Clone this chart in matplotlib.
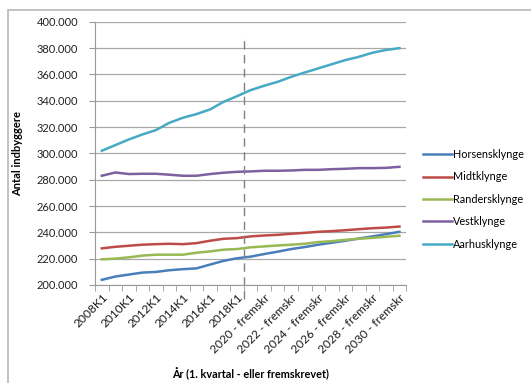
import matplotlib.pyplot as plt
from matplotlib.patches import Rectangle
from matplotlib.ticker import FuncFormatter, FixedLocator

plt.rcParams['font.family'] = ['Lato', 'DejaVu Sans']

# Kategorier: 1. kvartal 2008-2019, derefter fremskrivning 2020-2030
perioder = ['%dK1' % a for a in range(2008, 2020)] + \
           ['%d - fremskr' % a for a in range(2020, 2031)]

horsens = [203900, 206400, 207900, 209400, 209900, 211200, 212000, 212600,
           215500, 218300, 220300, 221500, 223500, 225300, 227300, 228800,
           230600, 232100, 233600, 235300, 236900, 238600, 240400]
midt = [227800, 229000, 229800, 230600, 231000, 231300, 231000, 231800,
        233600, 235100, 235600, 236900, 237600, 238100, 238900, 239600,
        240400, 240900, 241600, 242400, 243100, 243600, 244400]
randers = [219500, 220000, 221000, 222300, 223000, 223000, 223000, 224500,
           225500, 226800, 227300, 228600, 229300, 230000, 230600, 231300,
           232600, 233300, 234300, 235100, 235800, 236600, 237400]
vest = [283000, 285500, 284300, 284500, 284500, 283800, 283000, 283000,
        284300, 285300, 286000, 286300, 286800, 286800, 287000, 287500,
        287500, 288000, 288300, 288800, 288800, 289000, 289800]
aarhus = [302000, 306300, 310600, 314400, 317700, 323300, 327100, 329900,
          333400, 339200, 343500, 348100, 351400, 354400, 358200, 361500,
          364600, 367800, 370900, 373400, 376500, 378600, 380000]

serier = [('Horsensklynge', horsens, '#4a7ebb'),
          ('Midtklynge', midt, '#be4b48'),
          ('Randersklynge', randers, '#98b954'),
          ('Vestklynge', vest, '#7d60a0'),
          ('Aarhusklynge', aarhus, '#46aac5')]

fig = plt.figure(figsize=(5.31, 3.83), dpi=100)
fig.patches.append(Rectangle((8 / 531, -0.1), 1.2, 1 - 10 / 383 + 0.1,
                             transform=fig.transFigure, fill=False,
                             edgecolor='#b8b8b8', linewidth=1.2))
ax = fig.add_axes([0.179, 0.256, 0.586, 0.687])

x = list(range(len(perioder)))
for navn, y, farve in serier:
    ax.plot(x, y, color=farve, linewidth=1.8, label=navn)

# skillelinje mellem faktiske tal og fremskrivning
ax.plot([10.5, 10.5], [189000, 390000], color='#808080', linewidth=1,
        linestyle=(0, (6, 4)), clip_on=False)

ax.set_xlim(-0.5, len(perioder) - 0.5)
ax.set_ylim(200000, 400000)
ax.set_yticks(range(200000, 400001, 20000))
ax.yaxis.set_major_formatter(FuncFormatter(lambda v, p: f'{int(v):,}'.replace(',', '.')))
ax.grid(axis='y', color='#a8a8a8', linewidth=0.9)
ax.set_axisbelow(True)

ax.set_xticks(x[::2])
ax.set_xticklabels(perioder[::2], rotation=45, ha='right', va='top',
                   rotation_mode='anchor')
ax.xaxis.set_minor_locator(FixedLocator([i - 0.5 for i in range(len(perioder) + 1)]))
ax.tick_params(axis='x', which='major', length=0, pad=5, labelsize=8.6, labelcolor='#1a1a1a')
ax.tick_params(axis='x', which='minor', length=4, color='#999999')
ax.tick_params(axis='y', length=4, color='#999999', labelsize=8, labelcolor='#222222', pad=8)

for s in ['top', 'right']:
    ax.spines[s].set_visible(False)
for s in ['left', 'bottom']:
    ax.spines[s].set_color('#999999')

ax.set_ylabel('Antal indbyggere', fontsize=8, fontweight='bold', labelpad=10)
ax.set_xlabel('År (1. kvartal - eller fremskrevet)', fontsize=7.8, fontweight='bold', labelpad=9)

ax.legend(loc='upper left', bbox_to_anchor=(423 / 531, 1 - 149 / 383),
          bbox_transform=fig.transFigure, frameon=False, fontsize=7.8,
          handlelength=2.7, handletextpad=0.1, labelspacing=1.05,
          borderaxespad=0, borderpad=0)

plt.savefig('out.png', dpi=100)
